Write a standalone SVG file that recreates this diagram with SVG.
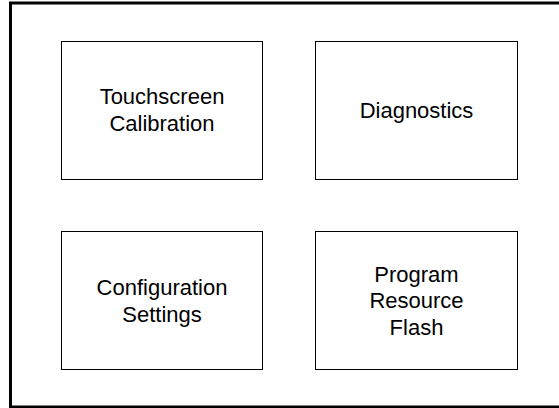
<svg xmlns="http://www.w3.org/2000/svg" width="559" height="408" viewBox="0 0 559 408">
  <style>
    .box { fill: #ffffff; stroke: #000000; stroke-width: 1; }
    .label { font-family: "Liberation Sans", Arial, sans-serif; font-size: 22px; fill: #000000; text-anchor: middle; }
  </style>
  <rect x="0" y="0" width="559" height="408" fill="#ffffff"/>
  <!-- outer frame (runs off the right edge) -->
  <rect id="frame" x="10.5" y="3" width="560" height="404" fill="none" stroke="#000000" stroke-width="3"/>
  <g id="connectors"></g>
  <g id="touchscreen-calibration">
    <rect class="box" x="61.5" y="41.5" width="201" height="138"/>
    <text class="label" x="162" y="104">Touchscreen</text>
    <text class="label" x="162" y="130.5">Calibration</text>
  </g>
  <g id="diagnostics">
    <rect class="box" x="315.5" y="41.5" width="202" height="138"/>
    <text class="label" x="416.5" y="118">Diagnostics</text>
  </g>
  <g id="configuration-settings">
    <rect class="box" x="61.5" y="231.5" width="201" height="138"/>
    <text class="label" x="162" y="295">Configuration</text>
    <text class="label" x="162" y="321.5">Settings</text>
  </g>
  <g id="program-resource-flash">
    <rect class="box" x="315.5" y="231.5" width="202" height="138"/>
    <text class="label" x="416.5" y="281.5">Program</text>
    <text class="label" x="416.5" y="308">Resource</text>
    <text class="label" x="416.5" y="334.5">Flash</text>
  </g>
</svg>
